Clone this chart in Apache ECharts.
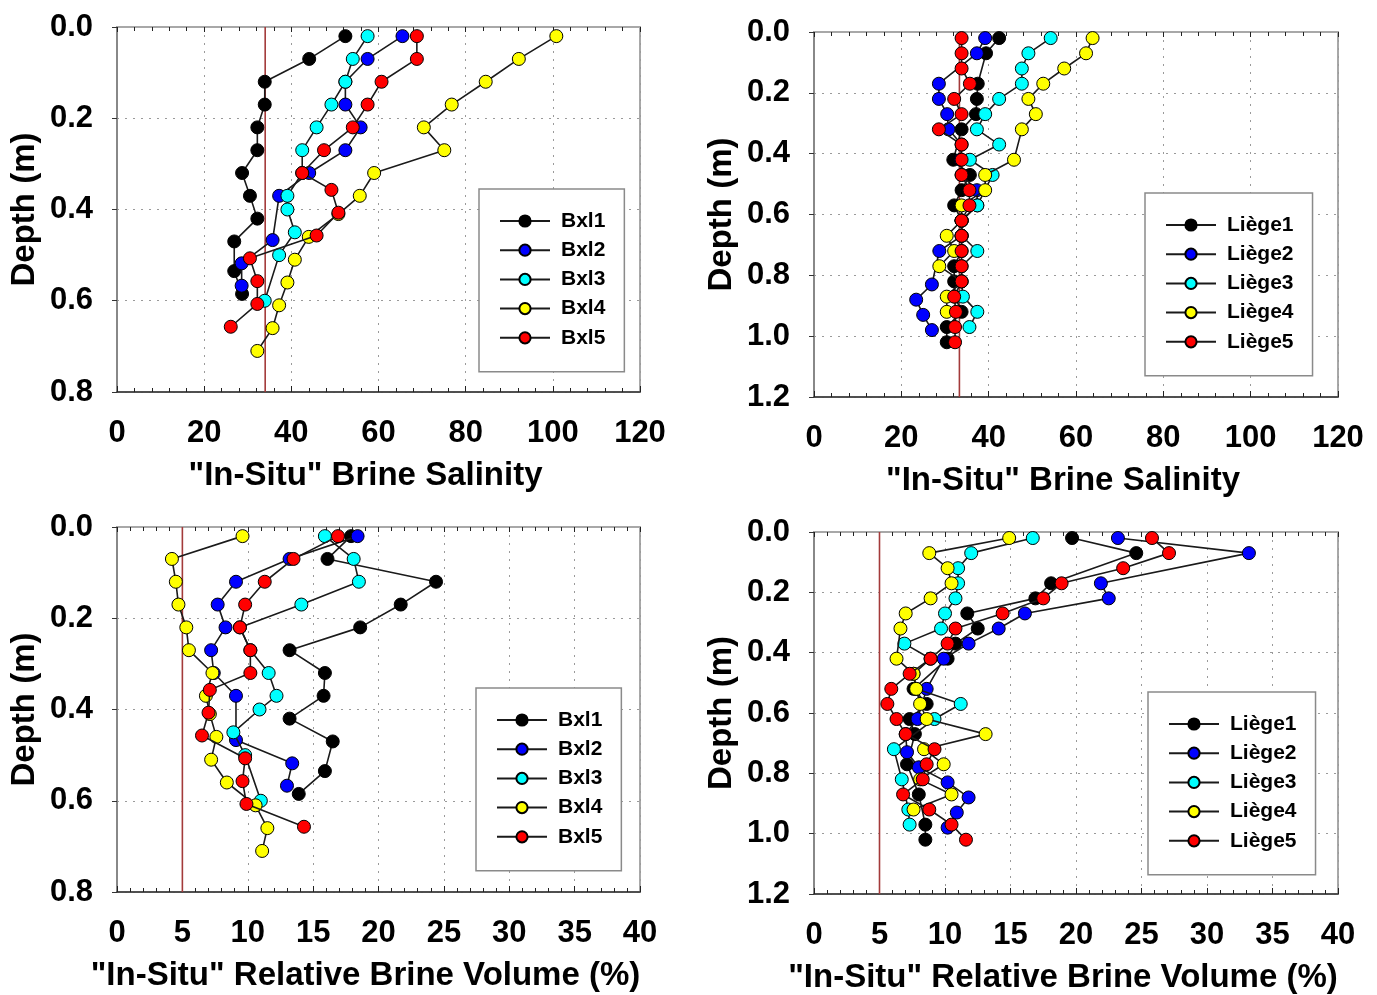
<!DOCTYPE html>
<html>
<head>
<meta charset="utf-8">
<script src="https://cdn.jsdelivr.net/npm/echarts@6/dist/echarts.min.js"></script>
<style>
html,body{margin:0;padding:0;background:#fff;}
#chart{width:1377px;height:995px;}
</style>
</head>
<body>
<div id="chart"></div>
<script>
// ---------- DATA ----------
const bxlNames = ['Bxl1', 'Bxl2', 'Bxl3', 'Bxl4', 'Bxl5'];
const liegeNames = ['Liège1', 'Liège2', 'Liège3', 'Liège4', 'Liège5'];
const seriesColors = ['#000000', '#0000ff', '#00ffff', '#ffff00', '#ff0000'];

// reference lines (seawater salinity / 5% brine volume threshold)
const refSalBxl = [34, 34];
const refSalLiege = [33.3, 33.3];
const refVol = [5, 5];

// Brussels cores: depth (m), in-situ brine salinity, relative brine volume (%)
const bxl1Depth = [0.02, 0.07, 0.12, 0.17, 0.22, 0.27, 0.32, 0.37, 0.42, 0.47, 0.535, 0.585];
const bxl1Sal   = [52.4, 44.1, 33.9, 33.9, 32.2, 32.2, 28.7, 30.5, 32.2, 26.9, 26.9, 28.7];
const bxl1Vol   = [17.9, 16.1, 24.4, 21.7, 18.6, 13.2, 15.9, 15.8, 13.2, 16.5, 15.9, 13.9];

const bxl2Depth = [0.02, 0.07, 0.12, 0.17, 0.22, 0.27, 0.32, 0.37, 0.467, 0.518, 0.567];
const bxl2Sal   = [65.5, 57.5, 52.4, 52.4, 55.9, 52.4, 44.1, 37.2, 35.7, 28.6, 28.6];
const bxl2Vol   = [18.4, 13.2, 9.1, 7.7, 8.3, 7.2, 7.4, 9.1, 9.1, 13.4, 13.0];

const bxl3Depth = [0.02, 0.07, 0.12, 0.17, 0.22, 0.27, 0.32, 0.37, 0.40, 0.45, 0.50, 0.60];
const bxl3Sal   = [57.5, 54.1, 52.4, 49.2, 45.8, 42.5, 42.5, 39.1, 39.1, 40.8, 37.2, 33.9];
const bxl3Vol   = [15.9, 18.1, 18.5, 14.1, 9.4, 10.2, 11.6, 12.2, 10.9, 8.9, 9.8, 11.0];

const bxl4Depth = [0.02, 0.07, 0.12, 0.17, 0.22, 0.27, 0.32, 0.37, 0.41, 0.46, 0.51, 0.56, 0.61, 0.66, 0.71];
const bxl4Sal   = [100.8, 92.2, 84.6, 76.8, 70.4, 75.1, 59.0, 55.7, 50.8, 44.0, 40.8, 39.1, 37.2, 35.7, 32.2];
const bxl4Vol   = [9.6, 4.2, 4.5, 4.7, 5.3, 5.5, 7.3, 6.8, 7.1, 7.6, 7.2, 8.4, 10.6, 11.5, 11.1];

const bxl5Depth = [0.02, 0.07, 0.12, 0.17, 0.22, 0.27, 0.32, 0.357, 0.407, 0.457, 0.507, 0.557, 0.607, 0.657];
const bxl5Sal   = [68.8, 68.8, 60.7, 57.5, 54.1, 47.5, 42.5, 49.2, 50.8, 45.8, 30.5, 32.2, 32.2, 26.1];
const bxl5Vol   = [16.9, 13.5, 11.3, 9.8, 9.4, 10.2, 10.2, 7.1, 7.0, 6.5, 9.8, 9.6, 9.9, 14.3];

// Liège cores: salinity profiles
const liege1SalDepth = [0.02, 0.07, 0.17, 0.22, 0.27, 0.32, 0.42, 0.47, 0.52, 0.57, 0.62, 0.67, 0.72, 0.77, 0.82, 0.87, 0.92, 0.97, 1.02];
const liege1Sal      = [42.4, 39.4, 37.5, 37.3, 37.1, 33.8, 31.9, 35.7, 33.8, 32.1, 33.8, 33.8, 33.8, 32.1, 32.1, 32.3, 33.8, 30.4, 30.4];
const liege2SalDepth = [0.02, 0.07, 0.17, 0.22, 0.27, 0.32, 0.37, 0.42, 0.47, 0.52, 0.57, 0.62, 0.67, 0.72, 0.83, 0.88, 0.93, 0.98];
const liege2Sal      = [39.2, 37.3, 28.6, 28.6, 30.5, 30.8, 33.8, 33.6, 33.8, 37.3, 37.4, 33.8, 33.8, 28.7, 27.0, 23.4, 25.0, 27.0];
const liege3SalDepth = [0.02, 0.07, 0.12, 0.17, 0.22, 0.27, 0.32, 0.37, 0.42, 0.47, 0.57, 0.62, 0.67, 0.72, 0.77, 0.82, 0.87, 0.92, 0.97];
const liege3Sal      = [54.2, 49.1, 47.6, 47.6, 42.4, 39.2, 37.3, 42.4, 35.7, 40.9, 37.4, 33.8, 33.8, 37.4, 33.8, 33.8, 34.1, 37.4, 35.6];
const liege4SalDepth = [0.02, 0.07, 0.12, 0.17, 0.22, 0.27, 0.32, 0.42, 0.47, 0.52, 0.57, 0.62, 0.67, 0.72, 0.77, 0.82, 0.87, 0.92];
const liege4Sal      = [63.8, 62.3, 57.3, 52.5, 49.1, 50.8, 47.6, 45.8, 39.2, 39.2, 33.8, 33.8, 30.4, 32.1, 28.7, 33.8, 30.4, 30.4];
const liege5SalDepth = [0.02, 0.07, 0.12, 0.17, 0.22, 0.27, 0.32, 0.37, 0.42, 0.47, 0.52, 0.57, 0.62, 0.67, 0.72, 0.77, 0.82, 0.87, 0.92, 0.97, 1.02];
const liege5Sal      = [33.8, 33.8, 33.8, 35.7, 32.1, 33.8, 28.6, 33.8, 33.8, 33.8, 35.6, 35.6, 33.8, 33.8, 33.8, 33.8, 33.8, 32.1, 32.5, 32.3, 32.3];

// Liège cores: relative brine volume profiles
const liege1VolDepth = [0.02, 0.07, 0.17, 0.22, 0.27, 0.32, 0.37, 0.42, 0.52, 0.57, 0.62, 0.67, 0.77, 0.87, 0.97, 1.02];
const liege1Vol      = [19.7, 24.6, 18.1, 16.9, 11.7, 12.5, 10.8, 10.2, 7.6, 8.6, 7.3, 7.7, 7.1, 8.0, 8.5, 8.5];
const liege2VolDepth = [0.02, 0.07, 0.17, 0.22, 0.27, 0.32, 0.37, 0.42, 0.52, 0.62, 0.67, 0.73, 0.78, 0.83, 0.88, 0.93, 0.98];
const liege2Vol      = [23.2, 33.2, 21.9, 22.5, 16.1, 14.1, 11.8, 9.9, 8.6, 7.9, 7.0, 7.1, 8.0, 10.2, 11.8, 10.9, 10.2];
const liege3VolDepth = [0.02, 0.07, 0.12, 0.17, 0.22, 0.27, 0.32, 0.37, 0.42, 0.47, 0.52, 0.57, 0.62, 0.72, 0.82, 0.92, 0.97];
const liege3Vol      = [16.7, 12.0, 11.0, 11.0, 10.8, 10.0, 9.7, 6.9, 8.9, 7.6, 7.8, 11.2, 9.2, 6.1, 6.7, 7.2, 7.3];
const liege4VolDepth = [0.02, 0.07, 0.12, 0.17, 0.22, 0.27, 0.32, 0.42, 0.47, 0.52, 0.57, 0.62, 0.67, 0.72, 0.77, 0.82, 0.87, 0.92];
const liege4Vol      = [14.9, 8.8, 10.2, 10.5, 8.9, 7.0, 6.6, 6.3, 7.6, 7.8, 8.1, 8.6, 13.1, 8.4, 9.9, 8.1, 10.5, 7.6];
const liege5VolDepth = [0.02, 0.07, 0.12, 0.17, 0.22, 0.27, 0.32, 0.37, 0.42, 0.47, 0.52, 0.57, 0.62, 0.67, 0.72, 0.77, 0.82, 0.87, 0.92, 0.97, 1.02];
const liege5Vol      = [25.8, 27.1, 23.6, 18.9, 17.5, 14.4, 10.8, 10.2, 8.9, 7.3, 5.9, 5.6, 6.3, 7.0, 9.2, 8.6, 8.3, 6.8, 8.8, 10.5, 11.6];

// axis ranges / tick labels
const salTicks = [0, 20, 40, 60, 80, 100, 120];
const volTicks = [0, 5, 10, 15, 20, 25, 30, 35, 40];
const depthTicksBxl = [0.0, 0.2, 0.4, 0.6, 0.8];
const depthTicksLiege = [0.0, 0.2, 0.4, 0.6, 0.8, 1.0, 1.2];
const salTitle = '"In-Situ" Brine Salinity';
const volTitle = '"In-Situ" Relative Brine Volume (%)';
const depthTitle = 'Depth (m)';

// ---------- CHART ----------
const FONT = 'Liberation Sans, Arial, sans-serif';
const panels = [
  { grid: { left: 117, top: 27, width: 523, height: 365 }, xt: salTicks, yt: depthTicksBxl, xname: salTitle,
    names: bxlNames, ref: refSalBxl,
    sets: [[bxl1Sal, bxl1Depth], [bxl2Sal, bxl2Depth], [bxl3Sal, bxl3Depth], [bxl4Sal, bxl4Depth], [bxl5Sal, bxl5Depth]],
    legend: { left: 479, top: 189 } },
  { grid: { left: 814, top: 32, width: 524, height: 365 }, xt: salTicks, yt: depthTicksLiege, xname: salTitle,
    names: liegeNames, ref: refSalLiege,
    sets: [[liege1Sal, liege1SalDepth], [liege2Sal, liege2SalDepth], [liege3Sal, liege3SalDepth], [liege4Sal, liege4SalDepth], [liege5Sal, liege5SalDepth]],
    legend: { left: 1145, top: 193 } },
  { grid: { left: 117, top: 527, width: 523, height: 365 }, xt: volTicks, yt: depthTicksBxl, xname: volTitle,
    names: bxlNames, ref: refVol,
    sets: [[bxl1Vol, bxl1Depth], [bxl2Vol, bxl2Depth], [bxl3Vol, bxl3Depth], [bxl4Vol, bxl4Depth], [bxl5Vol, bxl5Depth]],
    legend: { left: 476, top: 688 } },
  { grid: { left: 814, top: 532, width: 524, height: 365 }, xt: volTicks, yt: depthTicksLiege, xname: volTitle,
    names: liegeNames, ref: refVol,
    sets: [[liege1Vol, liege1VolDepth], [liege2Vol, liege2VolDepth], [liege3Vol, liege3VolDepth], [liege4Vol, liege4VolDepth], [liege5Vol, liege5VolDepth]],
    legend: { left: 1148, top: 692 } }
];

const option = {
  animation: false,
  backgroundColor: '#ffffff',
  grid: [], xAxis: [], yAxis: [], series: [], legend: []
};

const gridLine = { show: true, lineStyle: { color: '#9a9a9a', width: 1, type: [2, 6] } };

panels.forEach((p, gi) => {
  option.grid.push(Object.assign({ show: true, borderColor: '#a8a8a8', borderWidth: 2, backgroundColor: '#fff' }, p.grid));
  const xMin = p.xt[0], xMax = p.xt[p.xt.length - 1], xInt = p.xt[1] - p.xt[0];
  const yMin = p.yt[0], yMax = p.yt[p.yt.length - 1], yInt = p.yt[1] - p.yt[0];
  option.xAxis.push({
    type: 'value', gridIndex: gi, position: 'bottom', min: xMin, max: xMax, interval: xInt,
    name: p.xname, nameLocation: 'middle', nameGap: 67,
    nameTextStyle: { fontFamily: FONT, fontWeight: 'bold', fontSize: 33, color: '#000', padding: [0, 26, 0, 0] },
    axisLine: { show: true, onZero: false, lineStyle: { color: '#333', width: 1.5 } },
    axisTick: { show: true, inside: true, length: 6, lineStyle: { color: '#222' } },
    minorTick: { show: true, splitNumber: 5, length: 4, lineStyle: { color: '#222' } },
    axisLabel: { margin: 26, fontFamily: FONT, fontWeight: 'bold', fontSize: 31, color: '#000' },
    splitLine: gridLine
  });
  option.yAxis.push({
    type: 'value', gridIndex: gi, position: 'left', inverse: true, min: yMin, max: yMax, interval: yInt,
    name: depthTitle, nameLocation: 'middle', nameGap: 76, nameRotate: 90,
    nameTextStyle: { fontFamily: FONT, fontWeight: 'bold', fontSize: 33, color: '#000' },
    axisLine: { show: true, onZero: false, lineStyle: { color: '#888', width: 2 } },
    axisTick: { show: true, inside: false, length: 5, lineStyle: { color: '#333' } },
    minorTick: { show: false },
    axisLabel: { margin: 24, fontFamily: FONT, fontWeight: 'bold', fontSize: 31, color: '#000',
      formatter: v => v.toFixed(1) },
    splitLine: gridLine
  });
});
panels.forEach((p, gi) => {
  const xMin = p.xt[0], xMax = p.xt[p.xt.length - 1], xInt = p.xt[1] - p.xt[0];
  option.xAxis.push({
    type: 'value', gridIndex: gi, position: 'top', min: xMin, max: xMax, interval: xInt,
    axisLine: { show: true, onZero: false, lineStyle: { color: '#a8a8a8', width: 2 } },
    axisTick: { show: true, inside: true, length: 5, lineStyle: { color: '#222' } },
    minorTick: { show: true, splitNumber: 5, length: 4, lineStyle: { color: '#222' } },
    axisLabel: { show: false }, splitLine: { show: false }
  });
});

panels.forEach((p, gi) => {
  option.series.push({
    type: 'line', name: 'ref' + gi, xAxisIndex: gi, yAxisIndex: gi,
    data: [[p.ref[0], p.yt[0]], [p.ref[1], p.yt[p.yt.length - 1]]],
    symbol: 'none', silent: true, z: 1,
    lineStyle: { color: '#a33a3a', width: 1.6 }
  });
  p.sets.forEach((s, k) => {
    const vals = s[0], depths = s[1];
    option.series.push({
      type: 'line', name: p.names[k], xAxisIndex: gi, yAxisIndex: gi,
      data: depths.map((d, i) => [vals[i], d]),
      symbol: 'circle', symbolSize: 13, z: 2 + k,
      lineStyle: { color: '#1a1a1a', width: 1.6 },
      itemStyle: { color: seriesColors[k], borderColor: '#000', borderWidth: 1 }
    });
  });
  option.legend.push({
    data: p.names, orient: 'vertical', left: p.legend.left, top: p.legend.top,
    padding: [21, 19, 23, 20], itemGap: 7.2, itemWidth: 50, itemHeight: 14,
    borderColor: '#8a8a8a', borderWidth: 1.5, backgroundColor: '#fff',
    selectedMode: false,
    textStyle: { fontFamily: FONT, fontWeight: 'bold', fontSize: 21, color: '#000', lineHeight: 22, padding: [0, 0, 0, 6] }
  });
});

const chart = echarts.init(document.getElementById('chart'), null, { renderer: 'canvas' });
chart.setOption(option);
</script>
</body>
</html>
